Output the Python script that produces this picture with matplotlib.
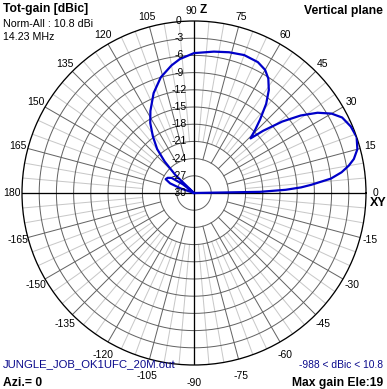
import numpy as np
import matplotlib
matplotlib.use("Agg")
import matplotlib.pyplot as plt

plt.rcParams["font.family"] = ["Liberation Sans", "DejaVu Sans"]

# Elevation pattern, gain relative to max (10.8 dBi), dB
elev_deg = [0, 1, 2, 3, 4, 6, 8, 10, 12, 15, 19, 23, 27, 30, 33, 36, 39, 42, 44,
            46, 48, 51, 54, 57, 60, 64, 70, 76, 82, 90, 96, 100, 106, 112, 118,
            122, 126, 130, 133, 136, 138, 142, 146, 150, 154, 158, 161, 164, 170, 180]
gain_db = [-99, -18.5, -14.0, -11.3, -9.5, -6.0, -4.0, -2.6, -1.5, -0.5, 0.0, -0.3,
           -1.0, -2.3, -4.3, -7.0, -10.2, -13.8, -16.3, -14.6, -12.8, -10.0, -7.8,
           -6.2, -5.2, -4.6, -4.4, -4.7, -5.1, -5.6, -6.5, -7.4, -9.0, -11.2, -13.8,
           -15.6, -17.8, -20.0, -22.5, -25.5, -99, -27.5, -25.3, -24.7, -24.5,
           -25.5, -27.5, -99, -99, -99]

ring_db = [-27, -24, -21, -18, -15, -12, -9, -6, -3]
ring_labels = ["0", "-3", "-6", "-9", "-12", "-15", "-18", "-21", "-24", "-27", "-30"]
angle_ticks = list(range(-165, 181, 15))

R_MIN = -30.0
DARK = "#646464"
LIGHT = "#c8c8c8"
CURVE = "#0000c8"
NAVY = "#0a0a8c"
PX = 0.72  # one pixel in points at dpi 100


def draw_grid(ax):
    t = np.linspace(0, 2 * np.pi, 721)
    for db in ring_db:
        ax.plot(t, np.full_like(t, db), color=DARK, lw=PX, zorder=2)
    for a in range(0, 360, 5):
        th = np.radians(a)
        if a % 90 == 0:
            ax.plot([th, th], [R_MIN, 0], color="black", lw=PX * 1.3, zorder=3)
        elif a % 15 == 0:
            ax.plot([th, th], [-24, 0], color=DARK, lw=PX, zorder=2)
        else:
            ax.plot([th, th], [-21, 0], color=LIGHT, lw=PX, zorder=1)


def draw_labels(ax):
    # ring values along the vertical axis
    for i, lab in enumerate(ring_labels):
        db = -3 * i
        ax.annotate(lab, xy=(np.pi / 2, db), xytext=(-15, 0), textcoords="offset pixels",
                    ha="center", va="center", fontsize=7.5, annotation_clip=False, zorder=6)
    # elevation angles round the outside
    for a in angle_ticks:
        th = np.radians(a)
        dx = 10 * np.cos(th)
        dy = 10 * np.sin(th)
        if np.sin(th) < 0:
            dy -= 8 * (-np.sin(th)) ** 4
        if a == 90:
            dx -= 3
        ax.annotate(str(a), xy=(th, 0), xytext=(dx, dy), textcoords="offset pixels",
                    ha="center", va="center", fontsize=7.5, annotation_clip=False, zorder=6)
    ax.annotate("XY", xy=(0, 0), xytext=(4, -10), textcoords="offset pixels",
                ha="left", va="center", fontsize=9, fontweight="bold", annotation_clip=False)
    ax.annotate("Z", xy=(np.pi / 2, 0), xytext=(9, 11), textcoords="offset pixels",
                ha="center", va="center", fontsize=8.5, fontweight="bold", annotation_clip=False)


def main():
    W, H = 387, 389
    fig = plt.figure(figsize=(W / 100, H / 100), dpi=100)
    cx, cy, rad = 194, 193, 172
    ax = fig.add_axes([(cx - rad) / W, (H - cy - rad) / H, 2 * rad / W, 2 * rad / H],
                      projection="polar")
    ax.set_theta_zero_location("E")
    ax.set_theta_direction(1)
    ax.set_ylim(R_MIN, 0)
    ax.set_xticks([])
    ax.set_yticks([])
    ax.grid(False)
    ax.spines["polar"].set_color("black")
    ax.spines["polar"].set_linewidth(PX * 1.3)

    draw_grid(ax)

    th = np.radians(elev_deg)
    r = np.clip(gain_db, R_MIN, 0)
    ax.plot(th, r, color=CURVE, lw=1.6, zorder=5, solid_joinstyle="round")

    draw_labels(ax)

    # header and footer texts
    fig.text(3 / W, 1 - 9 / H, "Tot-gain [dBic]", fontsize=8.7, fontweight="bold", va="center")
    fig.text(3 / W, 1 - 24 / H, "Norm-All : 10.8 dBi", fontsize=7.7, va="center")
    fig.text(3 / W, 1 - 37.5 / H, "14.23 MHz", fontsize=7.7, va="center")
    fig.text(383 / W, 1 - 11 / H, "Vertical plane", fontsize=8.7, fontweight="bold",
             va="center", ha="right")
    fig.text(3 / W, 1 - 364.5 / H, "JUNGLE_JOB_OK1UFC_20M.out", fontsize=8.2, color=NAVY,
             va="center", zorder=10)
    fig.text(383 / W, 1 - 364.5 / H, "-988 < dBic < 10.8", fontsize=7.4, color=NAVY,
             va="center", ha="right")
    fig.text(3 / W, 1 - 383 / H, "Azi.= 0", fontsize=8.7, fontweight="bold", va="center")
    fig.text(383 / W, 1 - 383 / H, "Max gain Ele:19", fontsize=8.7, fontweight="bold",
             va="center", ha="right")

    fig.savefig("out.png", dpi=100, facecolor="white")
    plt.close(fig)


if __name__ == "__main__":
    main()
